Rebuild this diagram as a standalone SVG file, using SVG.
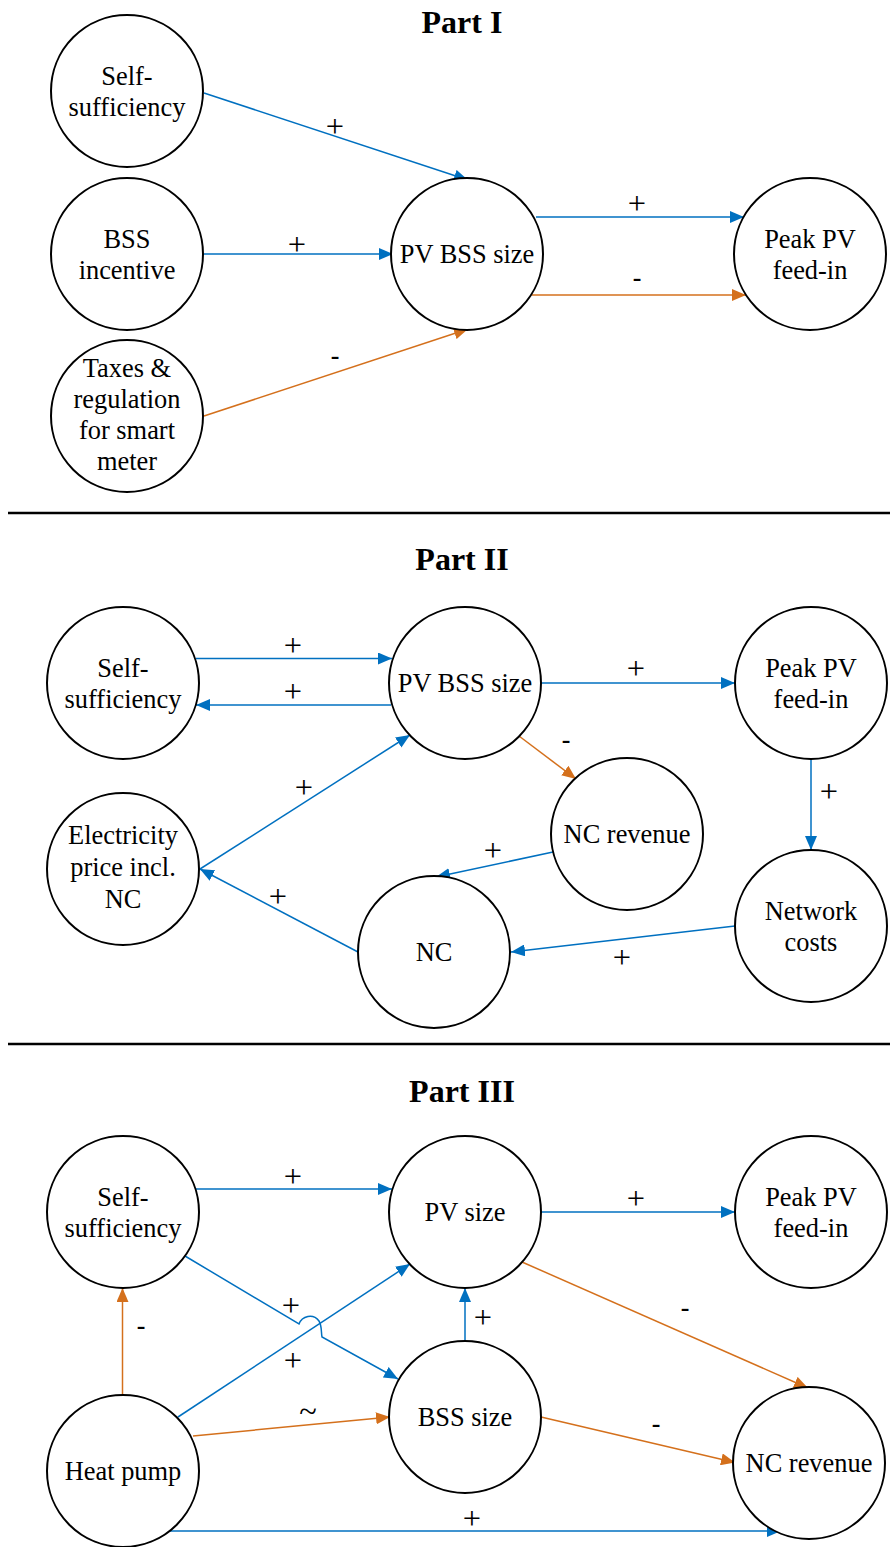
<svg xmlns="http://www.w3.org/2000/svg" width="890" height="1547" viewBox="0 0 890 1547">
<style>
.n{fill:#fff;stroke:#000;stroke-width:2}
.t{font-family:"Liberation Serif","DejaVu Serif Condensed","DejaVu Serif",serif;font-stretch:condensed;font-size:24px;fill:#000;text-anchor:middle;transform-box:fill-box;transform-origin:center;transform:scale(1.1)}
.h{font-family:"Liberation Serif","Times New Roman",serif;font-size:32px;font-weight:bold;fill:#000;text-anchor:middle}
.l{font-family:"Liberation Serif","DejaVu Serif Condensed","DejaVu Serif",serif;font-stretch:condensed;font-size:24px;fill:#000;text-anchor:middle;transform-box:fill-box;transform-origin:center;transform:scale(1.35)}
.m{font-family:"Liberation Serif","Times New Roman",serif;font-size:26px;font-weight:bold;fill:#000;text-anchor:middle}
.b{fill:none;stroke:#0070C0;stroke-width:1.5;marker-end:url(#ab)}
.o{fill:none;stroke:#D4701C;stroke-width:1.5;marker-end:url(#ao)}
.sep{stroke:#000;stroke-width:2.5}
</style>
<defs>
<marker id="ab" viewBox="0 0 14 12" refX="14" refY="6" markerWidth="14" markerHeight="12" markerUnits="userSpaceOnUse" orient="auto"><path d="M0,0 L14,6 L0,12 z" fill="#0070C0"/></marker>
<marker id="ao" viewBox="0 0 14 12" refX="14" refY="6" markerWidth="14" markerHeight="12" markerUnits="userSpaceOnUse" orient="auto"><path d="M0,0 L14,6 L0,12 z" fill="#D4701C"/></marker>
</defs>
<rect width="890" height="1547" fill="#fff"/>

<!-- Titles and separators -->
<text class="h" x="462" y="33">Part I</text>
<line class="sep" x1="8" y1="513" x2="890" y2="513"/>
<text class="h" x="462" y="570">Part II</text>
<line class="sep" x1="8" y1="1044" x2="890" y2="1044"/>
<text class="h" x="462" y="1102">Part III</text>

<g id="connectors">
<!-- Part I -->
<line class="b" x1="204" y1="93" x2="468" y2="180"/>
<text class="l" x="335" y="134">+</text>
<line class="b" x1="204" y1="254" x2="393" y2="254"/>
<text class="l" x="297" y="252">+</text>
<line class="o" x1="204" y1="416" x2="468" y2="329"/>
<text class="m" x="335" y="364">-</text>
<line class="b" x1="536" y1="217" x2="744" y2="217"/>
<text class="l" x="637" y="211">+</text>
<line class="o" x1="532" y1="295" x2="746" y2="295"/>
<text class="m" x="637" y="286">-</text>

<!-- Part II -->
<line class="b" x1="196" y1="658.5" x2="392" y2="658.5"/>
<text class="l" x="293" y="653">+</text>
<line class="b" x1="391" y1="705" x2="196" y2="705"/>
<text class="l" x="293" y="699">+</text>
<line class="b" x1="541" y1="683" x2="735" y2="683"/>
<text class="l" x="636" y="676">+</text>
<line class="o" x1="519" y1="736" x2="576" y2="779"/>
<text class="m" x="566" y="748">-</text>
<line class="b" x1="811" y1="759" x2="811" y2="850"/>
<text class="l" x="829" y="799">+</text>
<line class="b" x1="553" y1="852" x2="436" y2="877"/>
<text class="l" x="493" y="858">+</text>
<line class="b" x1="358" y1="952" x2="200" y2="869"/>
<text class="l" x="278" y="904">+</text>
<line class="b" x1="200" y1="869" x2="410" y2="735"/>
<text class="l" x="304" y="795">+</text>
<line class="b" x1="735" y1="926" x2="511" y2="952"/>
<text class="l" x="622" y="965">+</text>

<!-- Part III -->
<line class="b" x1="196" y1="1189" x2="392" y2="1189"/>
<text class="l" x="293" y="1184">+</text>
<line class="b" x1="541" y1="1212" x2="735" y2="1212"/>
<text class="l" x="636" y="1206">+</text>
<line class="o" x1="522" y1="1262" x2="808" y2="1388"/>
<text class="m" x="685" y="1316">-</text>
<line class="b" x1="465" y1="1342" x2="465" y2="1288"/>
<text class="l" x="483" y="1325">+</text>
<path class="b" d="M185,1256 L299,1324 C302,1316 313,1313 319,1321 C322,1326 321,1332 322,1337 L398,1379"/>
<text class="l" x="291" y="1313">+</text>
<line class="b" x1="178" y1="1417" x2="410" y2="1264"/>
<text class="l" x="293" y="1368">+</text>
<line class="o" x1="122.5" y1="1394" x2="122.5" y2="1288"/>
<text class="m" x="141" y="1334">-</text>
<line class="o" x1="193" y1="1436" x2="390" y2="1417"/>
<text class="l" x="308" y="1419">~</text>
<line class="o" x1="541" y1="1417" x2="735" y2="1462.5"/>
<text class="m" x="656" y="1432">-</text>
<line class="b" x1="167" y1="1531" x2="781" y2="1531"/>
<text class="l" x="472" y="1526">+</text>
</g>

<!-- Part I nodes -->
<g id="p1-self"><circle class="n" cx="127" cy="91" r="76"/><text class="t" x="127" y="84">Self-</text><text class="t" x="127" y="115">sufficiency</text></g>
<g id="p1-bss-incentive"><circle class="n" cx="127" cy="254" r="76"/><text class="t" x="127" y="247">BSS</text><text class="t" x="127" y="278">incentive</text></g>
<g id="p1-taxes"><circle class="n" cx="127" cy="416" r="76"/><text class="t" x="127" y="376">Taxes &amp;</text><text class="t" x="127" y="407">regulation</text><text class="t" x="127" y="438">for smart</text><text class="t" x="127" y="469">meter</text></g>
<g id="p1-pvbss"><circle class="n" cx="467" cy="254" r="76"/><text class="t" x="467" y="262">PV BSS size</text></g>
<g id="p1-peak"><circle class="n" cx="810" cy="254" r="76"/><text class="t" x="810" y="247">Peak PV</text><text class="t" x="810" y="278">feed-in</text></g>

<!-- Part II nodes -->
<g id="p2-self"><circle class="n" cx="123" cy="683" r="76"/><text class="t" x="123" y="676">Self-</text><text class="t" x="123" y="707">sufficiency</text></g>
<g id="p2-pvbss"><circle class="n" cx="465" cy="683" r="76"/><text class="t" x="465" y="691">PV BSS size</text></g>
<g id="p2-peak"><circle class="n" cx="811" cy="683" r="76"/><text class="t" x="811" y="676">Peak PV</text><text class="t" x="811" y="707">feed-in</text></g>
<g id="p2-ncrev"><circle class="n" cx="627" cy="834" r="76"/><text class="t" x="627" y="842">NC revenue</text></g>
<g id="p2-elec"><circle class="n" cx="123" cy="869" r="76"/><text class="t" x="123" y="843">Electricity</text><text class="t" x="123" y="875">price incl.</text><text class="t" x="123" y="907">NC</text></g>
<g id="p2-nc"><circle class="n" cx="434" cy="952" r="76"/><text class="t" x="434" y="960">NC</text></g>
<g id="p2-network"><circle class="n" cx="811" cy="926" r="76"/><text class="t" x="811" y="919">Network</text><text class="t" x="811" y="950">costs</text></g>

<!-- Part III nodes -->
<g id="p3-self"><circle class="n" cx="123" cy="1212" r="76"/><text class="t" x="123" y="1205">Self-</text><text class="t" x="123" y="1236">sufficiency</text></g>
<g id="p3-pv"><circle class="n" cx="465" cy="1212" r="76"/><text class="t" x="465" y="1220">PV size</text></g>
<g id="p3-peak"><circle class="n" cx="811" cy="1212" r="76"/><text class="t" x="811" y="1205">Peak PV</text><text class="t" x="811" y="1236">feed-in</text></g>
<g id="p3-heat"><circle class="n" cx="123" cy="1471" r="76"/><text class="t" x="123" y="1479">Heat pump</text></g>
<g id="p3-bss"><circle class="n" cx="465" cy="1417" r="76"/><text class="t" x="465" y="1425">BSS size</text></g>
<g id="p3-ncrev"><circle class="n" cx="809" cy="1463" r="76"/><text class="t" x="809" y="1471">NC revenue</text></g>
</svg>
